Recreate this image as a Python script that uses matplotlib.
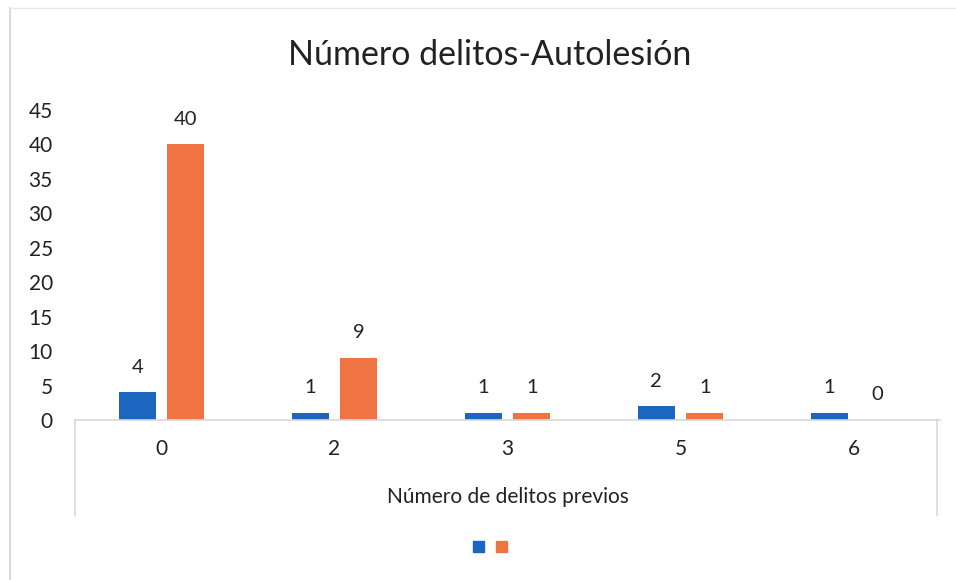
import matplotlib.pyplot as plt
from matplotlib.lines import Line2D
from matplotlib.patches import Patch

# datos del gráfico
categorias = ["0", "2", "3", "5", "6"]
serie_azul = [4, 1, 1, 2, 1]
serie_naranja = [40, 9, 1, 1, 0]
yticks = [0, 5, 10, 15, 20, 25, 30, 35, 40, 45]

azul = "#1c66bf"
naranja = "#ef7442"
fuente = "Lato"

plt.rcParams['font.family'] = [fuente, 'DejaVu Sans']

fig = plt.figure(figsize=(9.56, 5.8), dpi=100)
ax = fig.add_axes([75/956, 160/580, 865/956, 310/580])

x = list(range(len(categorias)))
ancho = 0.215
desp = 0.14
b1 = ax.bar([i - desp for i in x], serie_azul, width=ancho, color=azul)
b2 = ax.bar([i + desp for i in x], serie_naranja, width=ancho, color=naranja)

# etiquetas de valor encima de cada barra
for barras in (b1, b2):
    for b in barras:
        h = b.get_height()
        ax.annotate(str(int(h)), (b.get_x() + b.get_width()/2, h),
                    xytext=(0, 12), textcoords="offset points",
                    ha="center", va="bottom", fontsize=14.5, color="#222222")

ax.set_xlim(-0.5, len(categorias) - 0.5)
ax.set_ylim(0, 45)
ax.set_yticks(yticks)
ax.set_xticks(x)
ax.set_xticklabels(categorias)
ax.tick_params(axis="y", length=0, labelsize=15, pad=16, labelcolor="#222222")
ax.tick_params(axis="x", length=0, labelsize=15, pad=14, labelcolor="#222222")

for s in ("top", "right", "left"):
    ax.spines[s].set_visible(False)
ax.spines["bottom"].set_color("#d8d8d8")
ax.spines["bottom"].set_linewidth(1.2)

# marco de la zona del eje x
for xx in (0.0, 0.997):
    ax.plot([xx, xx], [0, -0.306], transform=ax.transAxes, color="#d8d8d8",
            lw=1.2, clip_on=False)

ax.set_xlabel("Número de delitos previos", fontsize=15, labelpad=20, color="#222222")
fig.suptitle("Número delitos-Autolesión", x=490/956, y=1 - 55/580, va="center",
             fontsize=24.5, color="#222222")

# leyenda sin texto
fig.legend(handles=[Patch(color=azul), Patch(color=naranja)], labels=["", ""],
           loc="center", bbox_to_anchor=(492/956, 1 - 547/580), ncol=2,
           frameon=False, handlelength=0.8, handleheight=0.8, columnspacing=0.6,
           handletextpad=0.3)

# borde del área del gráfico
fig.add_artist(Line2D([10/956, 10/956], [0, 1 - 8/580], color="#d6d6d6", lw=1.3))
fig.add_artist(Line2D([10/956, 1], [1 - 8/580, 1 - 8/580], color="#e8e8e8", lw=1.0))

fig.savefig("out.png", dpi=100)
